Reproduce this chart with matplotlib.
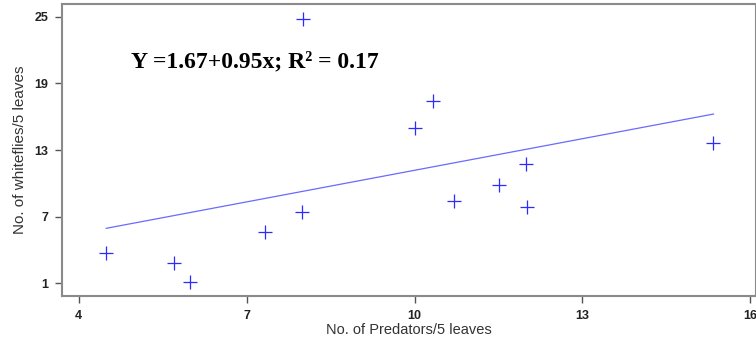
import numpy as np
import matplotlib
matplotlib.use("Agg")
import matplotlib.pyplot as plt

# data
predators = [4.49, 5.70, 5.99, 7.33, 8.0, 7.99, 10.0, 10.33, 10.71, 11.5, 11.99, 12.0, 15.34]
whiteflies = [3.7, 2.85, 1.05, 5.6, 24.8, 7.4, 15.0, 17.4, 8.4, 9.8, 11.7, 7.85, 13.6]

# fitted line from the printed equation
intercept, slope = 1.67, 0.95
xticks = [4, 7, 10, 13, 16]
yticks = [1, 7, 13, 19, 25]

fig = plt.figure(figsize=(7.56, 3.5), dpi=100)
ax = fig.add_axes([62 / 756, 54 / 350, 1 - 62 / 756, 292 / 350])

ax.plot(predators, whiteflies, linestyle="none", marker="+", markersize=10,
        markeredgewidth=0.9, color="#2b2bff")
xl = np.array([min(predators), max(predators)])
ax.plot(xl, intercept + slope * xl, color="#6a6aff", lw=0.9)

ax.set_xlim(3.7, 16.1)
ax.set_ylim(-0.17, 26.17)
ax.set_xticks(xticks)
ax.set_yticks(yticks)
for s in ax.spines.values():
    s.set_color("#8a8a8a")
    s.set_linewidth(1.5)
ax.tick_params(direction="out", length=5, width=1, color="#555555",
               labelsize=9, labelcolor="#222222", pad=5)
for lab in ax.get_xticklabels() + ax.get_yticklabels():
    lab.set_family("Liberation Sans")
    lab.set_fontweight("bold")

ax.set_xlabel("No. of Predators/5 leaves", fontsize=10.5, color="#333333",
              family="Liberation Sans", labelpad=1)
ax.set_ylabel("No. of whiteflies/5 leaves", fontsize=11, color="#333333",
              family="Liberation Sans", labelpad=5)

ax.text(131 / 756, 1 - 62 / 350, "Y =1.67+0.95x; R\u00b2 = 0.17",
        transform=fig.transFigure, fontsize=17, fontweight="bold",
        family="Liberation Serif", va="center", ha="left")

fig.savefig("out.png", dpi=100)
